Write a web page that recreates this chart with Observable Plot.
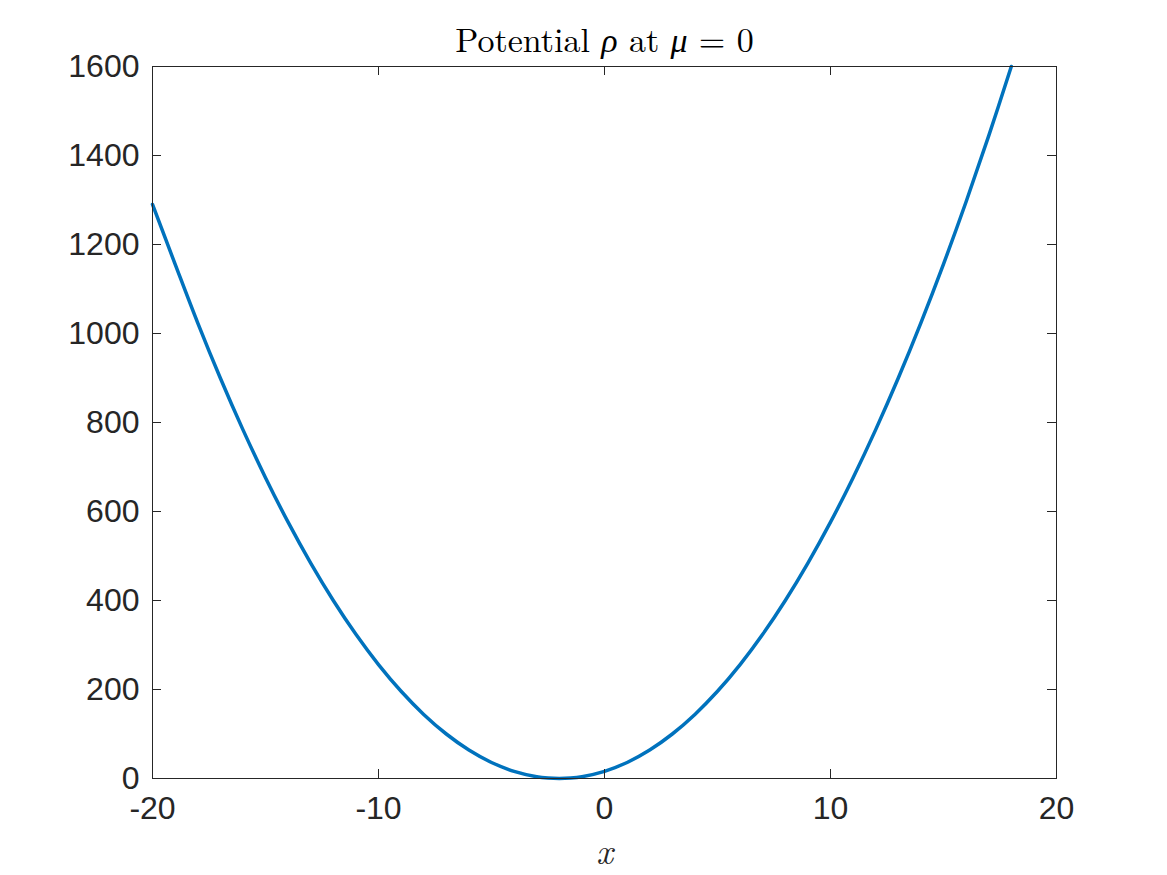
<!DOCTYPE html>
<html>
<head>
<meta charset="utf-8">
<script src="https://cdn.jsdelivr.net/npm/d3@7"></script>
<script src="https://cdn.jsdelivr.net/npm/@observablehq/plot@0.6"></script>
<style>
  html, body { margin: 0; padding: 0; background: #fff; }
  #chart svg { display: block; }
</style>
</head>
<body>
<div id="chart"></div>
<script>
// Values
const xValues = [-20, -19, -18, -17, -16, -15, -14, -13, -12, -11, -10, -9, -8, -7, -6, -5, -4, -3, -2.5, -2, -1.5, -1, 0, 1, 2, 3, 4, 5, 6, 7, 8, 9, 10, 11, 12, 13, 14, 15, 16, 17, 18];
const rhoValues = [1290, 1156, 1024, 900, 784, 676, 576, 484, 400, 324, 256, 196, 144, 100, 64, 36, 16, 4, 1, 0, 1, 4, 16, 36, 64, 100, 144, 196, 256, 324, 400, 484, 576, 676, 784, 900, 1024, 1156, 1296, 1444, 1600];
const xTicks = [-20, -10, 0, 10, 20];
const yTicks = [0, 200, 400, 600, 800, 1000, 1200, 1400, 1600];
const titleText = "Potential ρ at μ = 0";
const xLabel = "x";

const data = xValues.map((x, i) => ({x, y: rhoValues[i]}));

const W = 1167, H = 875;
const mL = 152, mR = 111, mT = 66, mB = 97;
const fw = W - mL - mR, fh = H - mT - mB;
const tick = 9;
const ink = "#262626";
const sans = "Helvetica, 'Liberation Sans', Arial, sans-serif";
const serif = "'Latin Modern Roman', 'CMU Serif', 'Liberation Serif', 'DejaVu Serif', serif";

const chart = Plot.plot({
  width: W,
  height: H,
  marginLeft: mL,
  marginRight: mR,
  marginTop: mT,
  marginBottom: mB,
  style: {background: "#fff", color: ink, fontFamily: sans},
  x: {domain: [-20, 20]},
  y: {domain: [0, 1600]},
  marks: [
    Plot.line(data, {x: "x", y: "y", stroke: "#0072BD", strokeWidth: 3.5, curve: "catmull-rom"}),
    Plot.frame({stroke: ink, strokeWidth: 1}),
    // inward ticks: bottom, top
    Plot.tickX(xTicks.slice(1, -1), {x: d => d, stroke: ink, insetTop: fh - tick}),
    Plot.tickX(xTicks.slice(1, -1), {x: d => d, stroke: ink, insetBottom: fh - tick}),
    // inward ticks: left, right
    Plot.tickY(yTicks.slice(1, -1), {y: d => d, stroke: ink, insetRight: fw - tick}),
    Plot.tickY(yTicks.slice(1, -1), {y: d => d, stroke: ink, insetLeft: fw - tick}),
    Plot.axisX(xTicks, {anchor: "bottom", tickSize: 0, tickPadding: 18, fontSize: 32, tickFormat: d => String(d), label: null, fill: ink}),
    Plot.axisY(yTicks, {anchor: "left", tickSize: 0, tickPadding: 13, fontSize: 32, tickFormat: d => String(d), label: null, fill: ink}),
    Plot.text([xLabel], {text: d => d, frameAnchor: "bottom", dy: 74, lineAnchor: "middle", fontSize: 36, fontStyle: "italic", fontFamily: serif, fill: ink}),
    Plot.text([titleText], {text: d => d, frameAnchor: "top", dy: -15, lineAnchor: "bottom", fontSize: 34, fontFamily: serif, fill: "#000"})
  ]
});

// Italicise the Greek letters in the title
d3.select(chart).selectAll("text").each(function() {
  const t = d3.select(this);
  if (t.text() === titleText) {
    const parts = [["Potential ", "normal"], ["ρ", "italic"], [" at ", "normal"], ["μ", "italic"], [" = 0", "normal"]];
    const node = t.select("tspan").empty() ? t : t.select("tspan");
    node.text(null);
    parts.forEach(([s, st]) => node.append("tspan").attr("font-style", st).text(s));
  }
});

document.getElementById("chart").appendChild(chart);
</script>
</body>
</html>
